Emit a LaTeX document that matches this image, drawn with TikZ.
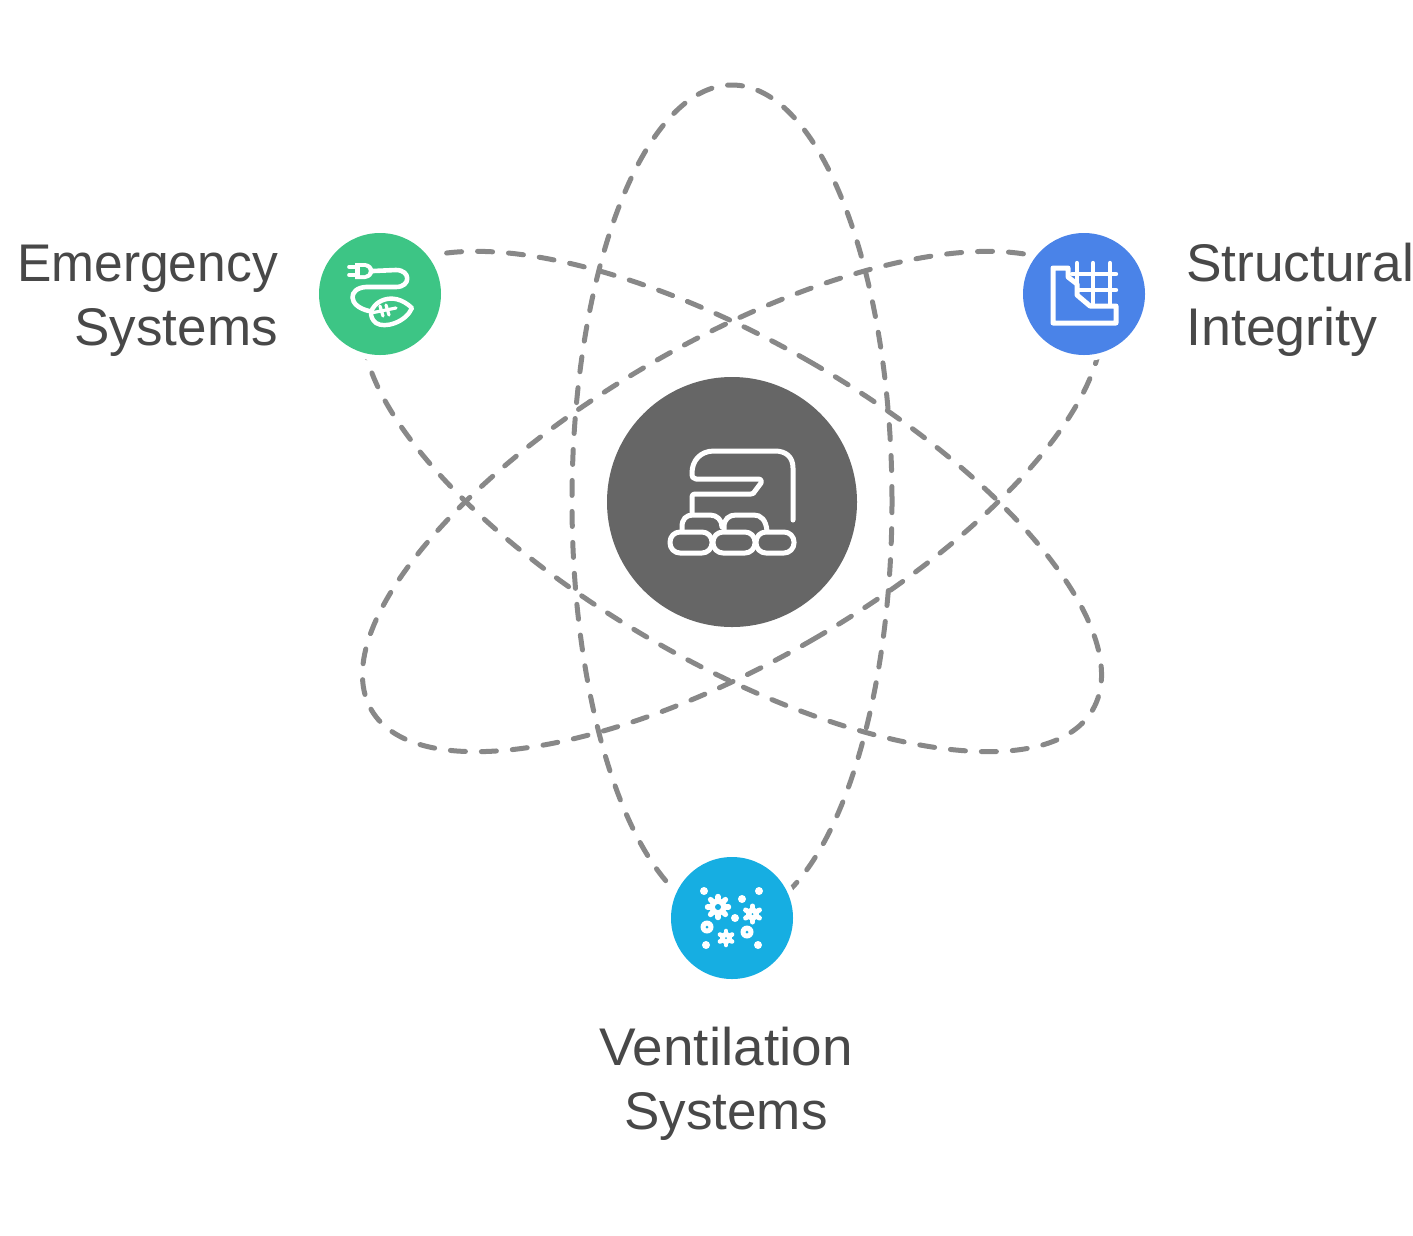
\documentclass[tikz,border=0pt]{standalone}
\usepackage{fontspec}
\setmainfont{Liberation Sans}
\definecolor{txt}{HTML}{484848}
\definecolor{orbit}{HTML}{888888}
\definecolor{hub}{HTML}{666666}
\definecolor{grn}{HTML}{3DC585}
\definecolor{blu}{HTML}{4A83E8}
\definecolor{cyn}{HTML}{16AEE2}
\newcommand{\st}[2]{{\addfontfeature{FakeStretch=#1}#2}}
\tikzset{
  orbitline/.style={draw=orbit,line width=5pt,line cap=round,dash pattern=on 15pt off 16pt},
  disc/.style={circle,inner sep=0pt,minimum size=122pt},
  halo/.style={circle,fill=white,inner sep=0pt,minimum size=134pt},
  lab/.style={text=txt,font=\fontsize{53}{64}\selectfont,inner sep=0pt,align=#1},
  ico/.style={draw=white,line width=5pt,line cap=round,line join=round,fill=none},
  dot/.style={fill=white,draw=none},
}
\begin{document}
\begin{tikzpicture}[x=1pt,y=-1pt]
\useasboundingbox (0,0) rectangle (1413,1235);
\fill[white] (0,0) rectangle (1413,1235);
\coordinate (c) at (732,501.5);
\draw[orbitline] (c) ellipse [x radius=160pt,y radius=416.5pt];
\draw[orbitline,rotate around={60:(c)}] (c) ellipse [x radius=160pt,y radius=416.5pt];
\draw[orbitline,rotate around={-60:(c)}] (c) ellipse [x radius=160pt,y radius=416.5pt];
\node[halo] at (380,294) {};
\node[halo] at (1084,294) {};
\node[halo] at (732,918) {};
\node[circle,fill=hub,minimum size=250pt,inner sep=0pt] (hubn) at (732,502) {};
\node[disc,fill=grn] (em) at (380,294) {};
\node[disc,fill=blu] (st) at (1084,294) {};
\node[disc,fill=cyn] (ve) at (732,918) {};
\node[lab=right,anchor=east] (t1) at (278,301) {\st{0.972}{Emergency}\\Systems};
\node[lab=left,anchor=west] (t2) at (1186,300) {\st{1.005}{Structural}\\\st{1.015}{Integrity}};
\node[lab=center,anchor=center] (t3) at (726,1084) {\st{1.036}{Ventilation}\\Systems};
% hub icon
\draw[ico] (793,520) -- (793,468) .. controls (793,457) and (786,451) .. (775,451) -- (714,451)
  .. controls (700,451) and (692,461) .. (692,473) .. controls (692,477) and (693,479) .. (696,479)
  -- (758,479) .. controls (761,479) and (762,481) .. (761,483) -- (755,491) .. controls (754,493) and (753,494) .. (751,494)
  -- (695,494) .. controls (693,494) and (692,495) .. (692,497) -- (692,514);
\draw[ico] (682,531) -- (682,527) .. controls (682,519) and (686,515) .. (693,515) -- (710,515) .. controls (717,515) and (722,520) .. (722,527);
\draw[ico] (724,531) -- (724,527) .. controls (724,519) and (729,515) .. (736,515) -- (754,515) .. controls (761,515) and (766,520) .. (767,531);
\draw[ico,rounded corners=10pt] (670,532) rectangle (712,553);
\draw[ico,rounded corners=10pt] (713,532) rectangle (755,553);
\draw[ico,rounded corners=10pt] (756,532) rectangle (794,553);
% emergency icon
\draw[ico,line width=4.6pt] (373,271) -- (396,270) .. controls (411,270) and (411,287) .. (396,287) -- (366,287)
  .. controls (348,288) and (347,306) .. (369,311);
\fill[white] (355,263) -- (365,263) .. controls (376,264) and (376,278) .. (365,279) -- (355,279) -- cycle;
\fill[grn] (360,267) -- (365,267) .. controls (370,268) and (370,274) .. (365,275) -- (360,275) -- cycle;
\draw[ico,line width=3.6pt] (349,267) -- (355,267) (349,275) -- (355,275);
\draw[ico,line width=4.4pt] (371,313) .. controls (372,303) and (392,289) .. (412,308) .. controls (406,322) and (385,329) .. (376,323) .. controls (372,320) and (371,316) .. (371,313);
\draw[ico,line width=3.2pt] (371,313) -- (396,308) (380,306) -- (383,316) (386,305) -- (389,315);
% structural icon
\draw[ico] (1053,268) -- (1068,268) -- (1068,277) -- (1077,284) -- (1077,295) -- (1090,306) -- (1116,306) -- (1116,323) -- (1053,323) -- cycle;
\draw[ico,line width=4.4pt] (1077,263) -- (1077,290) (1093,263) -- (1093,304) (1110,263) -- (1110,304);
\draw[ico,line width=4.4pt] (1072,274) -- (1116,274) (1078,290) -- (1116,290);
% ventilation icon
\foreach \x/\y/\r in {704/891/4,759/891/4,742/899/4,735/918/4,706/945/4,758/945/4}
  \fill[dot] (\x,\y) circle (\r pt);
\fill[dot] (707,927) circle (6.5pt);
\fill[cyn] (707,927) circle (1.5pt);
\fill[dot] (747,932) circle (6.5pt);
\fill[cyn] (747,932) circle (1.5pt);
\foreach \a in {0,45,...,315} \draw[white,line width=5.4pt,line cap=round] (718,907) -- ++(\a:10.5pt);
\fill[white] (718,907) circle (8.5pt);
\fill[cyn] (718,907) circle (3pt);
\foreach \a in {30,90,...,330} \draw[white,line width=5pt,line cap=round] (752.5,914) -- ++(\a:8pt);
\fill[white] (752.5,914) circle (6.5pt);
\fill[cyn] (752.5,914) circle (1pt);
\foreach \a in {30,90,...,330} \draw[white,line width=4.6pt,line cap=round] (726,938) -- ++(\a:7pt);
\fill[white] (726,938) circle (6pt);
\fill[cyn] (726,938) circle (1pt);
\end{tikzpicture}
\end{document}
